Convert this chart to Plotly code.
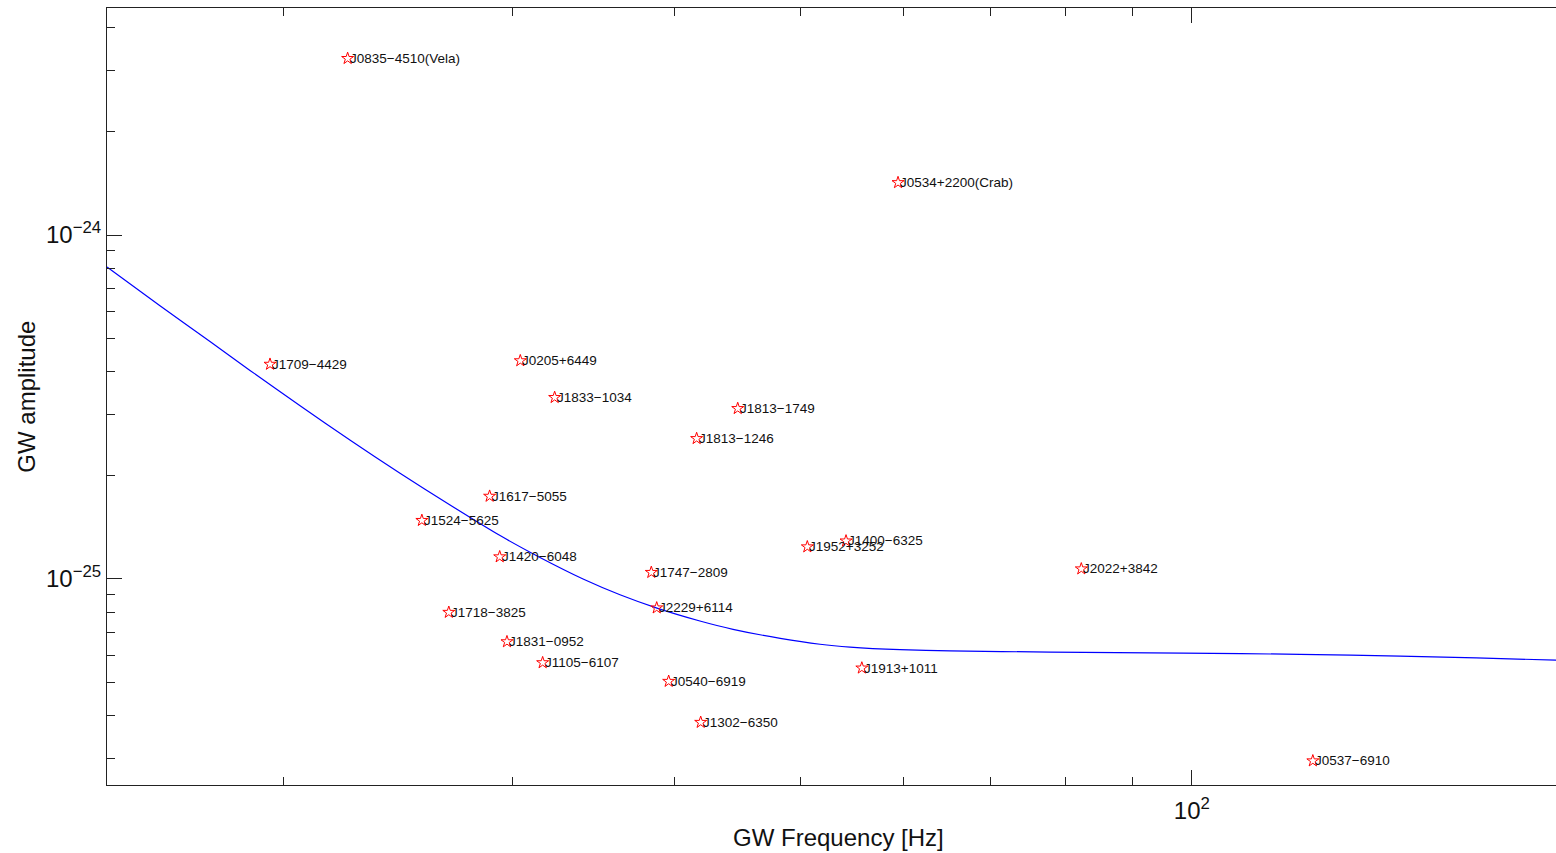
import math
import plotly.graph_objects as go

# ---------------- data ----------------
pulsar_names = [
    "J0835−4510(Vela)", "J0534+2200(Crab)", "J1709−4429", "J0205+6449",
    "J1833−1034", "J1813−1749", "J1813−1246", "J1617−5055", "J1524−5625",
    "J1952+3252", "J1400−6325", "J1420−6048", "J1747−2809", "J2022+3842",
    "J2229+6114", "J1718−3825", "J1831−0952", "J1105−6107", "J1913+1011",
    "J0540−6919", "J1302−6350", "J0537−6910",
]
pulsar_freq = [22.42, 59.43, 19.54, 30.44, 32.35, 44.74, 41.6, 28.83, 25.57,
               50.61, 54.2, 29.35, 38.39, 82.22, 38.76, 26.82, 29.73, 31.67,
               55.74, 39.59, 41.9, 123.9]
pulsar_amp = [3.26e-24, 1.42e-24, 4.21e-25, 4.31e-25, 3.37e-25, 3.13e-25,
              2.56e-25, 1.74e-25, 1.48e-25, 1.24e-25, 1.29e-25, 1.16e-25,
              1.045e-25, 1.07e-25, 8.24e-26, 8.0e-26, 6.57e-26, 5.71e-26,
              5.51e-26, 5.04e-26, 3.83e-26, 2.96e-26]

curve_freq = [14.64, 16.08, 17.57, 18.86, 20.61, 22.51, 24.60, 26.88, 29.37,
              31.52, 34.02, 36.32, 38.78, 41.84, 44.37, 48.24, 51.76, 54.59,
              59.65, 65.16, 77.79, 98.45, 121.1, 144.6, 190.6, 200.0]
curve_amp = [8.07e-25, 6.23e-25, 4.90e-25, 4.04e-25, 3.19e-25, 2.535e-25,
             2.03e-25, 1.641e-25, 1.337e-25, 1.155e-25, 1.0e-25, 9.00e-26,
             8.23e-26, 7.55e-26, 7.14e-26, 6.72e-26, 6.46e-26, 6.34e-26,
             6.23e-26, 6.18e-26, 6.13e-26, 6.09e-26, 6.04e-26, 5.97e-26,
             5.81e-26, 5.78e-26]

x_major_vals = [100]
x_major_text = ["10<sup>2</sup>"]
x_minor_vals = [20, 30, 40, 50, 60, 70, 80, 90]
y_major_vals = [1e-25, 1e-24]
y_major_text = ["10<sup>−25</sup>", "10<sup>−24</sup>"]
y_minor_vals = [3e-26, 4e-26, 5e-26, 6e-26, 7e-26, 8e-26, 9e-26,
                2e-25, 3e-25, 4e-25, 5e-25, 6e-25, 7e-25, 8e-25, 9e-25,
                2e-24, 3e-24, 4e-24]

x_range_hz = [14.64, 190.6]
y_range_amp = [2.518e-26, 4.57e-24]

FONT = "Liberation Sans, Arial, Helvetica, sans-serif"

fig = go.Figure()
fig.add_trace(go.Scatter(
    x=curve_freq, y=curve_amp, mode="lines", line_shape="spline",
    line=dict(color="#0000ff", width=1.2, smoothing=0.6),
    showlegend=False, hoverinfo="skip"))
fig.add_trace(go.Scatter(
    x=pulsar_freq, y=pulsar_amp, mode="markers",
    marker=dict(symbol="star-open", size=9, color="#ff0000",
                line=dict(color="#ff0000", width=1)),
    showlegend=False, text=pulsar_names))

for n, f, a in zip(pulsar_names, pulsar_freq, pulsar_amp):
    fig.add_annotation(x=math.log10(f), y=math.log10(a), text=n,
                       xref="x", yref="y", showarrow=False,
                       xanchor="left", yanchor="middle", xshift=0,
                       font=dict(family=FONT, size=13.5, color="#111111"))

axis_common = dict(
    type="log", showgrid=False, zeroline=False, showline=True,
    linecolor="#222222", linewidth=1, ticks="inside", ticklen=15,
    tickcolor="#222222", tickwidth=1,
    tickfont=dict(family=FONT, size=24, color="#111111"),
)

fig.update_xaxes(
    **axis_common, mirror="ticks", ticklabelstandoff=4,
    range=[math.log10(x_range_hz[0]), math.log10(x_range_hz[1])],
    tickmode="array", tickvals=x_major_vals, ticktext=x_major_text,
    minor=dict(tickmode="array", tickvals=x_minor_vals, ticks="inside",
               ticklen=8, tickcolor="#222222", tickwidth=1, showgrid=False),
)
fig.update_yaxes(
    **axis_common, mirror=False,
    range=[math.log10(y_range_amp[0]), math.log10(y_range_amp[1])],
    tickmode="array", tickvals=y_major_vals, ticktext=y_major_text,
    minor=dict(tickmode="array", tickvals=y_minor_vals, ticks="inside",
               ticklen=8, tickcolor="#222222", tickwidth=1, showgrid=False),
)

fig.add_annotation(text="GW Frequency [Hz]", xref="paper", yref="paper",
                   x=0.5045, y=-0.0682, showarrow=False,
                   xanchor="center", yanchor="middle",
                   font=dict(family=FONT, size=24, color="#111111"))
fig.add_annotation(text="GW amplitude", xref="paper", yref="paper",
                   x=-0.0558, y=0.5, showarrow=False, textangle=-90,
                   xanchor="center", yanchor="middle",
                   font=dict(family=FONT, size=24, color="#111111"))

fig.update_layout(
    width=1556, height=853,
    margin=dict(l=107, r=0, t=8, b=68, pad=0),
    paper_bgcolor="white", plot_bgcolor="white",
    font=dict(family=FONT, color="#111111"),
)

fig.write_html("out.html")
